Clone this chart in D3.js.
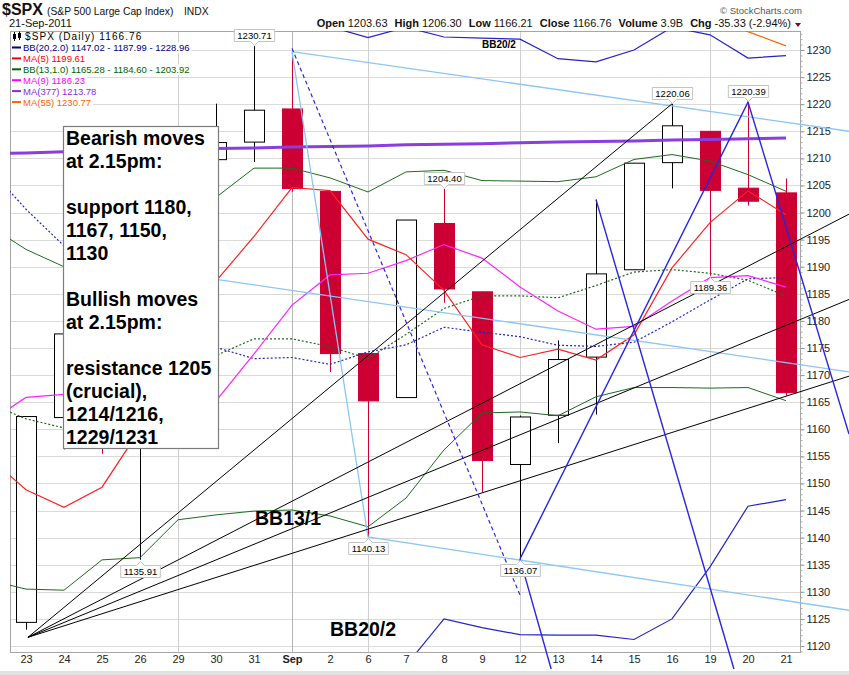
<!DOCTYPE html>
<html lang="en">

<head>
  <meta charset="UTF-8">
  <title>$SPX Daily</title>
  <script src="https://cdn.jsdelivr.net/npm/d3@7"></script>
  <style>
    body { margin: 0; background: #fff; }
    svg { display: block; font-family: "Liberation Sans", Arial, sans-serif; }
  </style>
</head>

<body>
  <svg width="849" height="675"></svg>
  <script>
    // trading days, 22 Aug (off the left edge) .. 21 Sep 2011
    var dates = ["22", "23", "24", "25", "26", "29", "30", "31", "Sep", "2", "6", "7", "8", "9", "12", "13", "14", "15", "16", "19", "20", "21"];
    var weekStarts = ["29", "Sep", "6", "12", "19"];

    var open = [1123.55, 1124.36, 1162.16, 1176.69, 1158.85, 1177.91, 1209.76, 1213.00, 1219.12, 1203.90, 1173.97, 1165.85, 1197.98, 1185.37, 1153.50, 1162.59, 1173.32, 1189.44, 1209.21, 1214.99, 1204.50, 1203.63];
    var high = [1145.49, 1162.35, 1178.56, 1190.68, 1181.23, 1210.28, 1220.10, 1230.71, 1229.29, 1203.90, 1173.97, 1198.62, 1204.40, 1185.37, 1162.52, 1176.41, 1202.38, 1209.11, 1220.06, 1214.99, 1220.39, 1206.30];
    var low = [1121.09, 1123.00, 1156.30, 1155.47, 1135.91, 1177.91, 1195.77, 1209.35, 1203.85, 1170.56, 1140.13, 1165.85, 1183.34, 1148.37, 1136.07, 1157.44, 1162.73, 1189.44, 1204.46, 1188.36, 1201.29, 1166.21];
    var close = [1123.82, 1162.35, 1177.60, 1159.27, 1176.80, 1210.08, 1212.92, 1218.89, 1204.42, 1173.97, 1165.24, 1198.62, 1185.90, 1154.23, 1162.27, 1172.87, 1188.68, 1209.11, 1216.01, 1204.09, 1202.09, 1166.76];

    // overlays
    var bb20Up = [1330, 1322, 1305, 1285, 1266, 1252, 1246, 1242, 1242, 1234.3, 1232.3, 1234.2, 1232.4, 1232.2, 1232.0, 1228.4, 1227.8, 1230.0, 1234.2, 1232.8, 1228.5, 1228.96];
    var bb20Mid = [1208.4, 1200.6, 1193.85, 1186.78, 1181.01, 1177.16, 1175.11, 1173.04, 1173.25, 1171.98, 1174.27, 1175.58, 1178.83, 1177.91, 1177.09, 1175.50, 1175.30, 1176.06, 1179.83, 1183.86, 1187.77, 1187.99];
    var bb20Lo = [1087, 1078, 1082, 1088, 1096, 1102, 1104, 1104, 1104.5, 1109.6, 1115.2, 1116.4, 1125.0, 1123.4, 1122.1, 1122.0, 1122.0, 1121.2, 1125.0, 1134.6, 1145.8, 1147.02];
    var ma5 = [1154.93, 1148.85, 1145.59, 1149.31, 1159.97, 1177.22, 1187.33, 1195.59, 1204.62, 1204.06, 1195.09, 1192.23, 1185.63, 1175.59, 1173.25, 1174.78, 1172.79, 1177.43, 1189.79, 1198.15, 1204.00, 1199.61];
    var bb13Up = [1197.7, 1193.2, 1190.0, 1190.7, 1191.0, 1197.7, 1202.8, 1208.2, 1208.2, 1206.4, 1203.8, 1207.5, 1207.8, 1205.9, 1205.8, 1205.7, 1206.6, 1209.8, 1210.7, 1209.5, 1207.0, 1203.92];
    var bb13Mid = [1164.83, 1161.93, 1160.25, 1163.32, 1163.64, 1170.51, 1173.61, 1176.70, 1176.69, 1175.25, 1173.04, 1177.50, 1182.30, 1184.64, 1184.63, 1184.27, 1186.53, 1189.02, 1189.47, 1188.79, 1187.50, 1184.60];
    var bb13Lo = [1132.2, 1130.5, 1130.3, 1135.9, 1136.3, 1143.3, 1144.2, 1144.9, 1145.1, 1144.0, 1142.0, 1147.3, 1156.2, 1163.0, 1163.2, 1162.5, 1166.0, 1167.7, 1167.7, 1167.6, 1167.7, 1165.28];
    var ma9 = [1161.26, 1165.88, 1166.43, 1164.26, 1161.19, 1163.11, 1165.22, 1173.92, 1182.91, 1188.48, 1188.80, 1191.13, 1194.09, 1191.59, 1186.27, 1181.82, 1178.47, 1178.99, 1183.66, 1187.98, 1188.36, 1186.23];
    var ma377 = [1210.9, 1211.0, 1211.2, 1211.3, 1211.5, 1211.6, 1211.8, 1211.9, 1212.1, 1212.2, 1212.3, 1212.5, 1212.6, 1212.7, 1212.9, 1213.0, 1213.1, 1213.2, 1213.4, 1213.5, 1213.6, 1213.78];
    var ma55 = [1268, 1266, 1264, 1262, 1260, 1258, 1256, 1254, 1252, 1250, 1248, 1246, 1244, 1243, 1242, 1241, 1240, 1239, 1238, 1236.6, 1233.4, 1230.77];

    // swing labels: [day index, value shown]
    var highMarks = [[7, 1230.71], [12, 1204.40], [18, 1220.06], [20, 1220.39]];
    var lowMarks = [[4, 1135.91], [10, 1140.13], [14, 1136.07], [19, 1189.36]];

    var yTicks = d3.range(1120, 1231, 5);

    var svg = d3.select("svg");
    var plot = { left: 10, top: 31, right: 800, bottom: 652 };

    var x = d3.scaleLinear().domain([1, 21]).range([26, 786]);
    var y = d3.scaleLinear().domain([1120, 1230]).range([646, 50]);
    var edge = x.invert(849); // right edge of the picture

    // hand drawn trend lines, [day index, price]
    var fanLines = [
      [[1.05, 1121.6], [18, 1220.06]],
      [[1.05, 1121.6], [edge, 1199.7]],
      [[1.05, 1121.6], [edge, 1183.96]],
      [[1.05, 1121.6], [edge, 1169.8]]
    ];
    var channelLines = [
      [[8, 1229.7], [edge, 1215.0]],
      [[8, 1229.7], [10, 1140.13], [edge, 1126.6]],
      [[5, 1188.7], [edge, 1170.6]]
    ];
    var blueLines = [
      [[14, 1136.07], [20, 1220.39], [edge, 1159.1]],
      [[16, 1202.38], [19.63, 1115.75]],
      [[14, 1136.07], [14.82, 1115.75]]
    ];
    var dashedLine = [[8, 1230.3], [14, 1129.4]];

    var n = dates.length - 1;
    var fmt = v => v.toFixed(2); // plain hyphen for negatives, like the source

    var defs = svg.append("defs");
    defs.append("clipPath").attr("id", "plotClip").append("rect")
      .attr("x", plot.left).attr("y", plot.top)
      .attr("width", plot.right - plot.left).attr("height", plot.bottom - plot.top);
    defs.append("clipPath").attr("id", "drawClip").append("rect")
      .attr("x", plot.left).attr("y", plot.top)
      .attr("width", 849 - plot.left).attr("height", 670 - plot.top);

    // grid
    var grid = svg.append("g");
    grid.selectAll(".hg").data(yTicks).enter().append("line")
      .attr("x1", plot.left).attr("x2", plot.right)
      .attr("y1", d => Math.round(y(d)) + 0.5).attr("y2", d => Math.round(y(d)) + 0.5)
      .attr("stroke", "#dadada");
    grid.selectAll(".vg").data(weekStarts).enter().append("line")
      .attr("x1", d => Math.round(x(dates.indexOf(d))) + 0.5)
      .attr("x2", d => Math.round(x(dates.indexOf(d))) + 0.5)
      .attr("y1", plot.top).attr("y2", plot.bottom)
      .attr("stroke", d => d === "Sep" ? "#b4b4b4" : "#cfcfcf");

    // frame
    svg.append("rect")
      .attr("x", plot.left + 0.5).attr("y", plot.top + 0.5)
      .attr("width", plot.right - plot.left).attr("height", plot.bottom - plot.top)
      .attr("fill", "none").attr("stroke", "#a6a6a6");

    // y axis on the right
    var yAxisMinor = d3.axisRight(y).tickValues(d3.range(1119, 1234)).tickSize(2).tickFormat("");
    svg.append("g").attr("transform", "translate(" + (plot.right + 0.5) + ",0)")
      .call(yAxisMinor)
      .call(g => g.select(".domain").remove())
      .selectAll("line").attr("stroke", "#aaa");
    var yAxis = d3.axisRight(y).tickValues(yTicks).tickSize(4).tickPadding(2).tickFormat(d3.format("d"));
    var ya = svg.append("g").attr("transform", "translate(" + (plot.right + 0.5) + ",0)")
      .call(yAxis)
      .call(g => g.select(".domain").remove());
    ya.selectAll("line").attr("stroke", "#999");
    ya.selectAll("text").attr("font-size", 11).attr("fill", "#222").attr("font-family", "Liberation Sans, Arial");

    // x axis
    var xAxis = d3.axisBottom(x).tickValues(d3.range(1, 22)).tickFormat(i => dates[i]).tickSize(0).tickPadding(3);
    var xa = svg.append("g").attr("transform", "translate(0," + plot.bottom + ")")
      .call(xAxis)
      .call(g => g.select(".domain").remove());
    xa.selectAll("text").attr("font-size", 11).attr("fill", "#222").attr("font-family", "Liberation Sans, Arial")
      .attr("font-weight", i => dates[i] === "Sep" ? "bold" : null);

    svg.append("rect").attr("x", 0).attr("y", 671).attr("width", 849).attr("height", 4).attr("fill", "#e2e2e2");

    // candles
    var cg = svg.append("g").attr("clip-path", "url(#plotClip)");
    var candles = cg.selectAll(".candle").data(d3.range(dates.length)).enter().append("g");
    candles.append("line")
      .attr("x1", i => Math.round(x(i)) + 0.5).attr("x2", i => Math.round(x(i)) + 0.5)
      .attr("y1", i => y(high[i])).attr("y2", i => y(low[i]))
      .attr("stroke", i => close[i] < open[i] ? "#cc0033" : "#000");
    candles.append("rect")
      .attr("x", i => Math.round(x(i)) - 9.5)
      .attr("y", i => y(Math.max(open[i], close[i])))
      .attr("width", 20)
      .attr("height", i => Math.max(1, y(Math.min(open[i], close[i])) - y(Math.max(open[i], close[i]))))
      .attr("fill", i => close[i] < open[i] ? "#cc0033" : "#fff")
      .attr("stroke", i => close[i] < open[i] ? "#cc0033" : "#000");

    // indicator lines
    var line = d3.line().x((d, i) => x(i)).y(d => y(d));
    var lg = svg.append("g").attr("clip-path", "url(#plotClip)").attr("fill", "none");
    var series = [
      { v: bb20Up, c: "#2323c8", w: 1.2 },
      { v: bb20Lo, c: "#2323c8", w: 1.2 },
      { v: bb20Mid, c: "#2323c8", w: 1.2, dash: "2,2" },
      { v: bb13Up, c: "#1c6b1c", w: 1 },
      { v: bb13Lo, c: "#1c6b1c", w: 1 },
      { v: bb13Mid, c: "#1c6b1c", w: 1.2, dash: "2,2" },
      { v: ma9, c: "#ff22ff", w: 1.2 },
      { v: ma5, c: "#ff2020", w: 1.2 },
      { v: ma55, c: "#ff6600", w: 1.2 },
      { v: ma377, c: "#8a3ee0", w: 3 }
    ];
    series.forEach(s => {
      lg.append("path").attr("d", line(s.v))
        .attr("stroke", s.c).attr("stroke-width", s.w)
        .attr("stroke-dasharray", s.dash || null);
    });

    // trend lines
    var tline = d3.line().x(d => x(d[0])).y(d => y(d[1]));
    var tg = svg.append("g").attr("clip-path", "url(#drawClip)").attr("fill", "none");
    channelLines.forEach(p => tg.append("path").attr("d", tline(p)).attr("stroke", "#8cc6f2").attr("stroke-width", 1.3));
    fanLines.forEach(p => tg.append("path").attr("d", tline(p)).attr("stroke", "#000").attr("stroke-width", 1));
    tg.append("path").attr("d", tline(dashedLine)).attr("stroke", "#2a2ae6").attr("stroke-width", 1.2).attr("stroke-dasharray", "4,3");
    blueLines.forEach(p => tg.append("path").attr("d", tline(p)).attr("stroke", "#2626e0").attr("stroke-width", 1.4));

    // swing high / low labels
    function priceTag(i, v, up) {
      var cx = Math.round(x(i)) + 0.5;
      var g = svg.append("g");
      var t = g.append("text").attr("x", cx).attr("text-anchor", "middle")
        .attr("font-size", 9.5).attr("fill", "#000").text(fmt(v));
      var w = t.node().getBBox().width + 6, h = 12;
      var top, path;
      if (up) {
        var b = Math.round(y(high[i])) - 4.5;
        top = b - h;
        path = "M" + (cx - w / 2) + "," + top + "H" + (cx + w / 2) + "V" + b + "H" + (cx + 4) + "L" + cx + "," + (b + 4) + "L" + (cx - 4) + "," + b + "H" + (cx - w / 2) + "Z";
      } else {
        top = Math.round(y(low[i])) + 5.5;
        path = "M" + (cx - w / 2) + "," + top + "H" + (cx - 4) + "L" + cx + "," + (top - 4) + "L" + (cx + 4) + "," + top + "H" + (cx + w / 2) + "V" + (top + h) + "H" + (cx - w / 2) + "Z";
      }
      g.insert("path", "text").attr("d", path).attr("fill", "#fff").attr("stroke", "#c4c4c4");
      t.attr("y", top + 9.5);
    }
    highMarks.forEach(d => priceTag(d[0], d[1], true));
    lowMarks.forEach(d => priceTag(d[0], d[1], false));

    // annotation box
    var note = ["Bearish moves", "at 2.15pm:", "", "support 1180,", "1167, 1150,", "1130", "",
      "Bullish moves", "at 2.15pm:", "", "resistance 1205", "(crucial),", "1214/1216,", "1229/1231"];
    svg.append("rect").attr("x", 63.5).attr("y", 126.5).attr("width", 155).attr("height", 322)
      .attr("fill", "#fff").attr("stroke", "#7c7c7c").attr("stroke-width", 1.2);
    svg.append("g").selectAll("text").data(note).enter().append("text")
      .attr("x", 66).attr("y", (d, k) => 145 + 23 * k)
      .attr("font-size", 19.5).attr("font-weight", "bold").attr("fill", "#000")
      .text(d => d);

    svg.append("text").attr("x", 255).attr("y", 525).attr("font-size", 19.5).attr("font-weight", "bold").text("BB13/1");
    svg.append("text").attr("x", 330).attr("y", 636).attr("font-size", 19.5).attr("font-weight", "bold").text("BB20/2");
    svg.append("text").attr("x", 482).attr("y", 48).attr("font-size", 10).attr("font-weight", "bold").text("BB20/2");

    // legend
    var legend = [
      { t: "BB(20,2.0) " + fmt(bb20Lo[n]) + " - " + fmt(bb20Mid[n]) + " - " + fmt(bb20Up[n]), c: "#000080" },
      { t: "MA(5) " + fmt(ma5[n]), c: "#ff0000" },
      { t: "BB(13,1.0) " + fmt(bb13Lo[n]) + " - " + fmt(bb13Mid[n]) + " - " + fmt(bb13Up[n]), c: "#006400" },
      { t: "MA(9) " + fmt(ma9[n]), c: "#ff00ff" },
      { t: "MA(377) " + fmt(ma377[n]), c: "#8a2be2" },
      { t: "MA(55) " + fmt(ma55[n]), c: "#ff6600" }
    ];
    var lgd = svg.append("g");
    var first = lgd.append("text").attr("x", 25).attr("y", 40).attr("font-size", 10)
      .attr("letter-spacing", 1.1).attr("fill", "#000").text("$SPX (Daily) " + fmt(close[n]));
    var fb = first.node().getBBox();
    lgd.insert("rect", "text").attr("x", 11).attr("y", 32).attr("width", fb.x + fb.width - 9).attr("height", 10).attr("fill", "#fff");
    lgd.append("rect").attr("x", 13).attr("y", 34).attr("width", 3).attr("height", 5).attr("fill", "#000");
    lgd.append("rect").attr("x", 14).attr("y", 32).attr("width", 1).attr("height", 9).attr("fill", "#000");
    lgd.append("rect").attr("x", 18).attr("y", 33).attr("width", 3).attr("height", 5).attr("fill", "#000");
    lgd.append("rect").attr("x", 19).attr("y", 31.5).attr("width", 1).attr("height", 8.5).attr("fill", "#000");
    legend.forEach((d, k) => {
      var by = 51 + 10.9 * k;
      var g = lgd.append("g");
      var t = g.append("text").attr("x", 23).attr("y", by).attr("font-size", 9.5).attr("fill", d.c).text(d.t);
      var bb = t.node().getBBox();
      g.insert("rect", "text").attr("x", 11).attr("y", by - 8.5).attr("width", bb.x + bb.width - 9).attr("height", 10.9).attr("fill", "#fff");
      g.append("rect").attr("x", 12).attr("y", by - 4.5).attr("width", 9).attr("height", 2).attr("fill", d.c);
    });

    // header
    svg.append("text").attr("x", 2).attr("y", 15).attr("font-size", 16).attr("font-weight", "bold").attr("fill", "#111").text("$SPX");
    svg.append("text").attr("x", 47).attr("y", 15).attr("font-size", 10.3).attr("fill", "#111").text("(S&P 500 Large Cap Index)");
    svg.append("text").attr("x", 184).attr("y", 15).attr("font-size", 10.3).attr("fill", "#111").text("INDX");
    svg.append("text").attr("x", 9).attr("y", 27).attr("font-size", 11).attr("fill", "#111").text("21-Sep-2011");
    svg.append("text").attr("x", 802).attr("y", 14).attr("text-anchor", "end").attr("font-size", 9.5).attr("fill", "#555").text("\u00a9 StockCharts.com");

    var chg = close[n] - close[n - 1];
    var quote = [
      ["Open", fmt(open[n])], ["High", fmt(high[n])], ["Low", fmt(low[n])], ["Close", fmt(close[n])],
      ["Volume", "3.9B"], ["Chg", fmt(chg) + " (" + fmt(chg / close[n - 1] * 100) + "%)"]
    ];
    var qt = svg.append("text").attr("x", 791).attr("y", 27).attr("text-anchor", "end").attr("font-size", 11).attr("fill", "#111");
    quote.forEach((q, k) => {
      qt.append("tspan").attr("font-weight", "bold").attr("dx", k ? 7 : 0).text(q[0]);
      qt.append("tspan").attr("dx", 3).text(q[1]);
    });
    svg.append("path").attr("d", "M795,23H801L798,27Z").attr("fill", "#800040");
  </script>
</body>

</html>
